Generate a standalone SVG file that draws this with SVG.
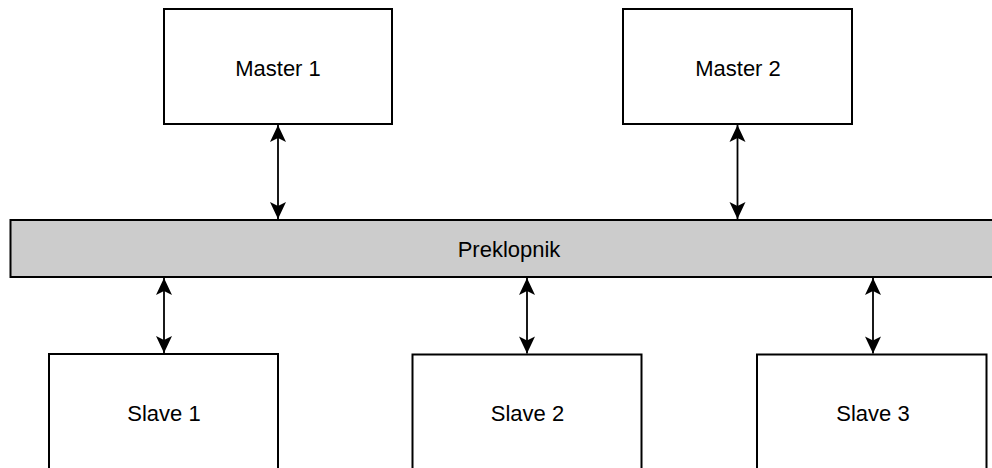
<svg xmlns="http://www.w3.org/2000/svg" width="992" height="468" viewBox="0 0 992 468">
  <defs>
    <style>
      .box { fill: #ffffff; stroke: #000000; stroke-width: 2; }
      .bar { fill: #cccccc; stroke: #000000; stroke-width: 2; }
      .lbl { font-family: "Liberation Sans", Arial, sans-serif; font-size: 22px; fill: #000000; text-anchor: middle; }
      .conn { fill: none; stroke: #000000; stroke-width: 1.8; marker-start: url(#arrow); marker-end: url(#arrow); }
    </style>
    <marker id="arrow" markerUnits="userSpaceOnUse" viewBox="-18 -9 19 18" markerWidth="19" markerHeight="18" refX="0" refY="0" orient="auto-start-reverse">
      <path d="M0,0 L-17,-8 L-13,0 L-17,8 Z" fill="#000000"/>
    </marker>
  </defs>
  <rect width="992" height="468" fill="#ffffff"/>
  <g id="connectors">
    <line class="conn" x1="278" y1="125" x2="278" y2="219"/>
    <line class="conn" x1="737.5" y1="125" x2="737.5" y2="219"/>
    <line class="conn" x1="164" y1="278" x2="164" y2="353"/>
    <line class="conn" x1="527" y1="278" x2="527" y2="353.5"/>
    <line class="conn" x1="873" y1="278" x2="873" y2="353.5"/>
  </g>
  <g id="preklopnik">
    <rect class="bar" x="10.5" y="220" width="1000" height="57"/>
    <text class="lbl" x="509" y="256.5">Preklopnik</text>
  </g>
  <g id="master1">
    <rect class="box" x="164" y="9" width="228" height="115"/>
    <text class="lbl" x="278" y="76">Master 1</text>
  </g>
  <g id="master2">
    <rect class="box" x="623" y="9" width="229" height="115"/>
    <text class="lbl" x="738" y="76">Master 2</text>
  </g>
  <g id="slave1">
    <rect class="box" x="49" y="354" width="229" height="115"/>
    <text class="lbl" x="164" y="421">Slave 1</text>
  </g>
  <g id="slave2">
    <rect class="box" x="412.5" y="354.5" width="229" height="115"/>
    <text class="lbl" x="527.5" y="421">Slave 2</text>
  </g>
  <g id="slave3">
    <rect class="box" x="757" y="354.5" width="229.5" height="115"/>
    <text class="lbl" x="873" y="421">Slave 3</text>
  </g>
</svg>
